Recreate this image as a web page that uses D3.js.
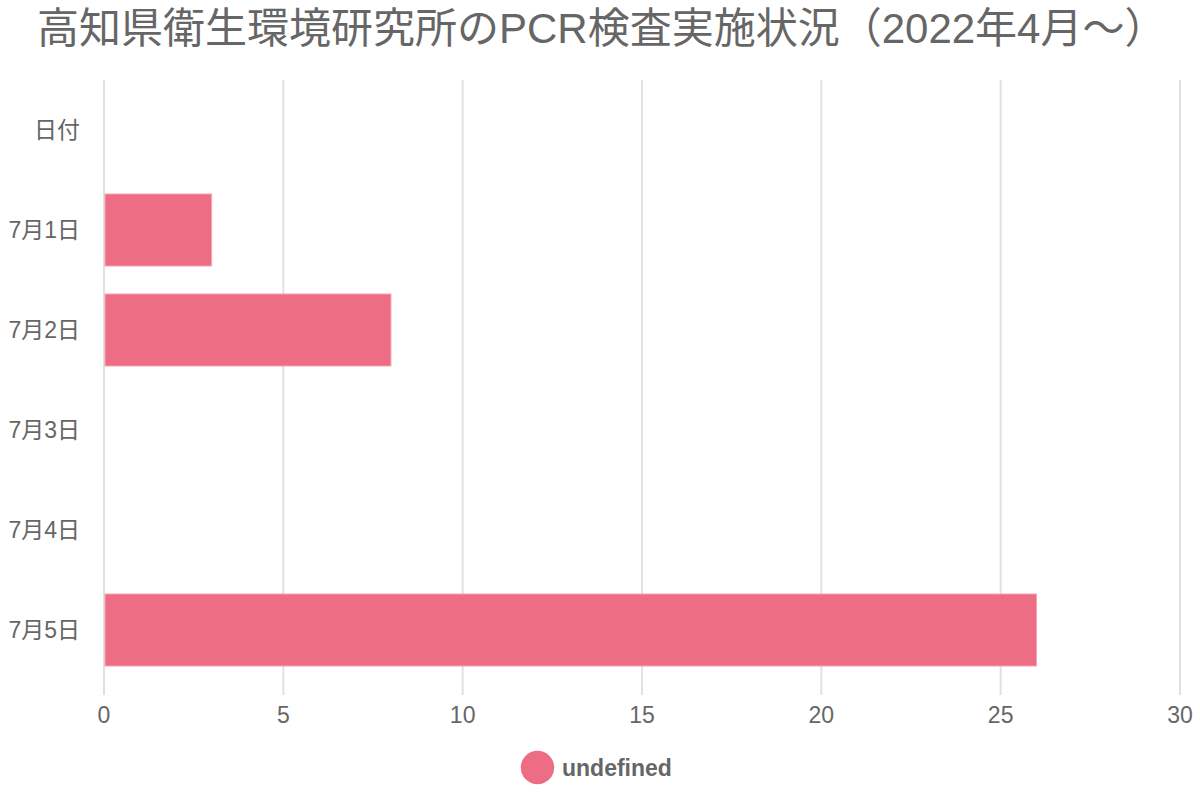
<!DOCTYPE html>
<html>
<head>
<meta charset="utf-8">
<script src="https://cdn.jsdelivr.net/npm/d3@7"></script>
<style>
  html, body { margin: 0; padding: 0; background: #fff; }
  svg { display: block; }
  text { font-family: "Liberation Sans", Arial, "Noto Sans CJK JP", sans-serif; }
</style>
</head>
<body>
<svg id="chart" width="1200" height="800"></svg>
<script>
const title = "高知県衛生環境研究所のPCR検査実施状況（2022年4月～）";
const categories = ["日付", "7月1日", "7月2日", "7月3日", "7月4日", "7月5日"];
const values = [null, 3, 8, 0, 0, 26];
const xTicks = [0, 5, 10, 15, 20, 25, 30];
const seriesName = "undefined";

const svg = d3.select("#chart");

const x = d3.scaleLinear().domain([0, 30]).range([104, 1180]);
const y = d3.scaleBand().domain(categories).range([80, 680]).paddingInner(0.28).paddingOuter(0.14);

const textColor = "#666666";
const gridColor = "#e1e1e1";
const barColor = "#ec6d84";

// title
svg.append("text")
  .attr("x", 37).attr("y", 43)
  .attr("font-size", 42)
  .attr("fill", textColor)
  .text(title);

// grid lines
svg.append("g")
  .selectAll("line")
  .data(xTicks)
  .join("line")
  .attr("x1", d => x(d)).attr("x2", d => x(d))
  .attr("y1", 80).attr("y2", 695)
  .attr("stroke", gridColor)
  .attr("stroke-width", 2);

// x tick labels
svg.append("g")
  .selectAll("text")
  .data(xTicks)
  .join("text")
  .attr("x", d => x(d))
  .attr("y", 715)
  .attr("dy", "0.35em")
  .attr("text-anchor", "middle")
  .attr("font-size", 23)
  .attr("fill", textColor)
  .text(d => d);

// y labels
svg.append("g")
  .selectAll("text")
  .data(categories)
  .join("text")
  .attr("x", 80)
  .attr("y", d => y(d) + y.bandwidth() / 2)
  .attr("dy", "0.35em")
  .attr("text-anchor", "end")
  .attr("font-size", 23)
  .attr("fill", textColor)
  .text(d => d);

// bars
const data = categories.map((c, i) => ({ c, v: values[i] })).filter(d => d.v != null && d.v > 0);
svg.append("g")
  .selectAll("rect")
  .data(data)
  .join("rect")
  .attr("x", x(0) + 1)
  .attr("y", d => y(d.c))
  .attr("width", d => x(d.v) - x(0) - 1)
  .attr("height", y.bandwidth())
  .attr("fill", barColor)
  .attr("stroke", "#f7a3b3")
  .attr("stroke-width", 1);

// legend
svg.append("circle")
  .attr("cx", 537.5).attr("cy", 767.5).attr("r", 16.7)
  .attr("fill", barColor);
svg.append("text")
  .attr("x", 562).attr("y", 767.5)
  .attr("dy", "0.35em")
  .attr("font-size", 23)
  .attr("font-weight", "bold")
  .attr("fill", textColor)
  .text(seriesName);
</script>
</body>
</html>
